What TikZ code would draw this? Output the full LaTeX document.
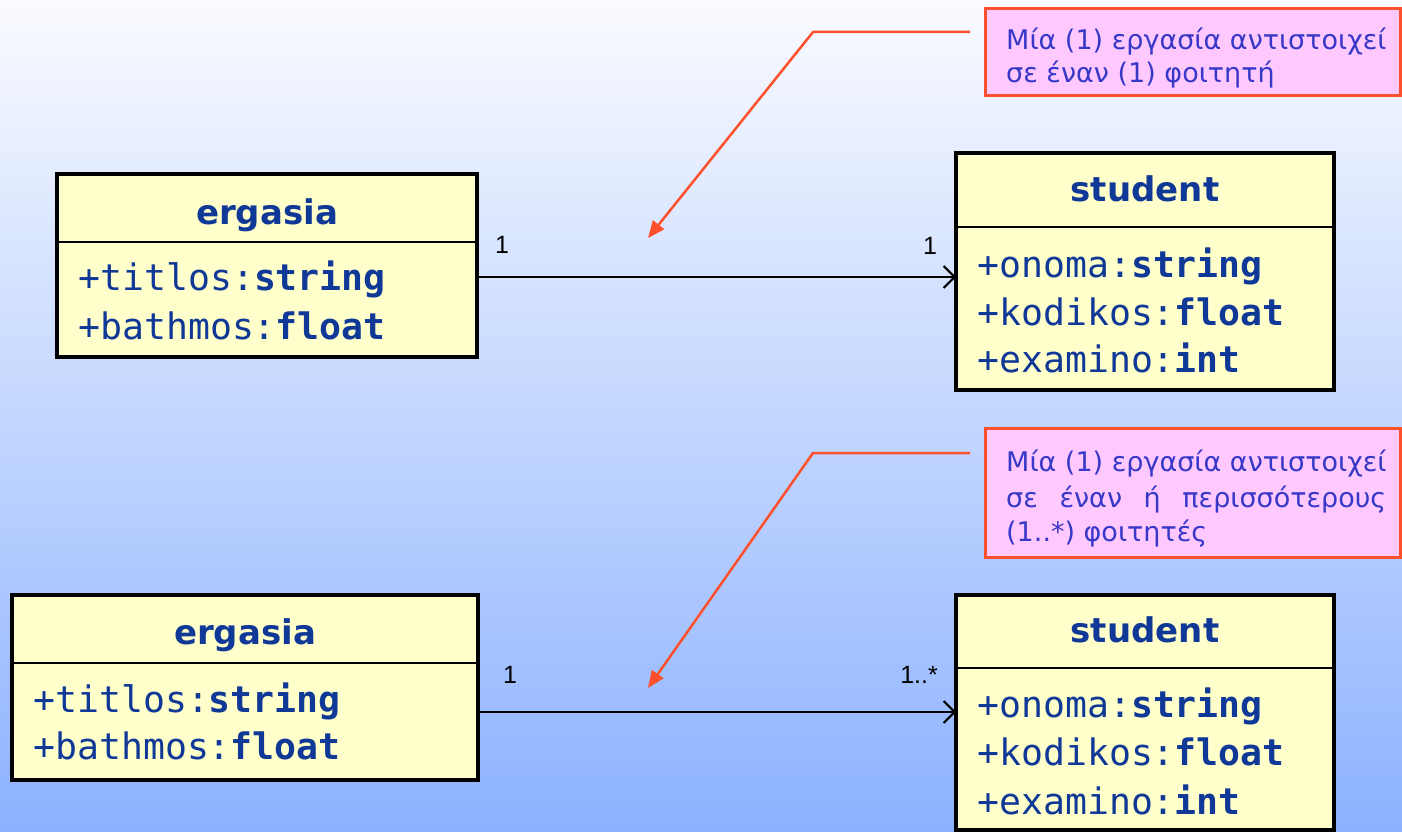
\documentclass[tikz,border=0pt]{standalone}
\usepackage{fontspec}
\usetikzlibrary{arrows.meta,calc}
\newfontfamily\monof{DejaVu Sans Mono}
\newfontfamily\titlef{DejaVu Sans}
\newfontfamily\notef{DejaVu Sans}
\newfontfamily\multf{Liberation Sans}
\definecolor{clstext}{RGB}{16,56,150}
\definecolor{boxfill}{RGB}{255,255,204}
\definecolor{notepink}{RGB}{255,200,255}
\definecolor{notered}{RGB}{255,80,45}
\definecolor{notetext}{RGB}{55,55,200}
\definecolor{bgtop}{RGB}{250,251,255}
\definecolor{bgmid}{RGB}{215,226,251}
\definecolor{bgbot}{RGB}{140,178,255}
\begin{document}
\begin{tikzpicture}[x=1pt,y=-1pt,
  classbox/.style={draw=black, line width=4pt, fill=boxfill, inner sep=0pt, outer sep=0pt, anchor=north west},
  divider/.style={line width=2pt, draw=black},
  ctitle/.style={font=\titlef\bfseries\fontsize{34}{40}\selectfont, text=clstext, inner sep=0pt, anchor=mid, yshift=-9pt},
  attr/.style={font=\monof\fontsize{36.5}{44}\selectfont, text=clstext, inner sep=0pt, anchor=mid west, yshift=-10pt},
  mult/.style={font=\multf\fontsize{25}{28}\selectfont, inner sep=0pt, anchor=mid, yshift=-5pt},
  assoc/.style={line width=2pt, draw=black, -{Straight Barb[length=11pt,width=22pt,line width=2pt]}},
  note/.style={draw=notered, line width=3pt, fill=notepink, inner sep=0pt, outer sep=0pt, anchor=north west},
  notetxt/.style={font=\notef\fontsize{27}{34}\selectfont, text=notetext, inner sep=0pt, anchor=mid west, yshift=-6pt},
  callout/.style={draw=notered, line width=2.5pt, line join=miter, -{Triangle[length=17pt,width=14pt]}}
]
\useasboundingbox (0,0) rectangle (1402,832);
\shade[top color=bgtop, middle color=bgmid, bottom color=bgbot] (0,0) rectangle (1402,832);

% ---------- top pair ----------
\node[classbox, minimum width=420pt, minimum height=183pt] (E1) at (57,174) {};
\draw[divider] (E1.west |- 0,242) -- (E1.east |- 0,242);
\node[ctitle] (E1t) at (E1.north |- 0,213) {ergasia};
\node[attr] (E1a) at (78,278) {+titlos:\textbf{string}};
\node[attr] (E1b) at (78,327) {+bathmos:\textbf{float}};

\node[classbox, minimum width=378pt, minimum height=237pt] (S1) at (956,153) {};
\draw[divider] (S1.west |- 0,227) -- (S1.east |- 0,227);
\node[ctitle] (S1t) at (S1.north |- 0,190) {student};
\node[attr] (S1a) at (977,265) {+onoma:\textbf{string}};
\node[attr] (S1b) at (977,313) {+kodikos:\textbf{float}};
\node[attr] (S1c) at (977,360) {+examino:\textbf{int}};

\coordinate (A1) at (0,277);
\draw[assoc] (E1.east |- A1) -- (S1.west |- A1);
\node[mult] (m1a) at (502,246) {1};
\node[mult] (m1b) at (930,247) {1};

\node[note, minimum width=415pt, minimum height=87pt] (N1) at (985,9) {};
\node[notetxt] (N1a) at (1006,41) {Μία (1) εργασία αντιστοιχεί};
\node[notetxt] (N1b) at (1006,74) {σε έναν (1) φοιτητή};
\coordinate (K1) at (813,32);
\coordinate (T1) at (648,238);
\draw[callout] ($(N1.north west)+(-15,23)$) -- (K1) -- (T1);

% ---------- bottom pair ----------
\node[classbox, minimum width=466pt, minimum height=185pt] (E2) at (12,595) {};
\draw[divider] (E2.west |- 0,663) -- (E2.east |- 0,663);
\node[ctitle] (E2t) at (E2.north |- 0,633) {ergasia};
\node[attr] (E2a) at (33,700) {+titlos:\textbf{string}};
\node[attr] (E2b) at (33,747) {+bathmos:\textbf{float}};

\node[classbox, minimum width=378pt, minimum height=235pt] (S2) at (956,595) {};
\draw[divider] (S2.west |- 0,668) -- (S2.east |- 0,668);
\node[ctitle] (S2t) at (S2.north |- 0,631) {student};
\node[attr] (S2a) at (977,705) {+onoma:\textbf{string}};
\node[attr] (S2b) at (977,753) {+kodikos:\textbf{float}};
\node[attr] (S2c) at (977,802) {+examino:\textbf{int}};

\coordinate (A2) at (0,712);
\draw[assoc] (E2.east |- A2) -- (S2.west |- A2);
\node[mult] (m2a) at (510,676) {1};
\node[mult] (m2b) at (919,676) {1..*};

\node[note, minimum width=415pt, minimum height=129pt] (N2) at (985,428) {};
\node[notetxt] (N2a) at (1006,463) {Μία (1) εργασία αντιστοιχεί};
\node[notetxt] (N2b) at (1006,499) {\makebox[380pt][s]{σε έναν ή περισσότερους}};
\node[notetxt] (N2c) at (1006,533) {(1..*) φοιτητές};
\coordinate (K2) at (813,453);
\coordinate (T2) at (648,688);
\draw[callout] ($(N2.north west)+(-15,25)$) -- (K2) -- (T2);
\end{tikzpicture}
\end{document}
